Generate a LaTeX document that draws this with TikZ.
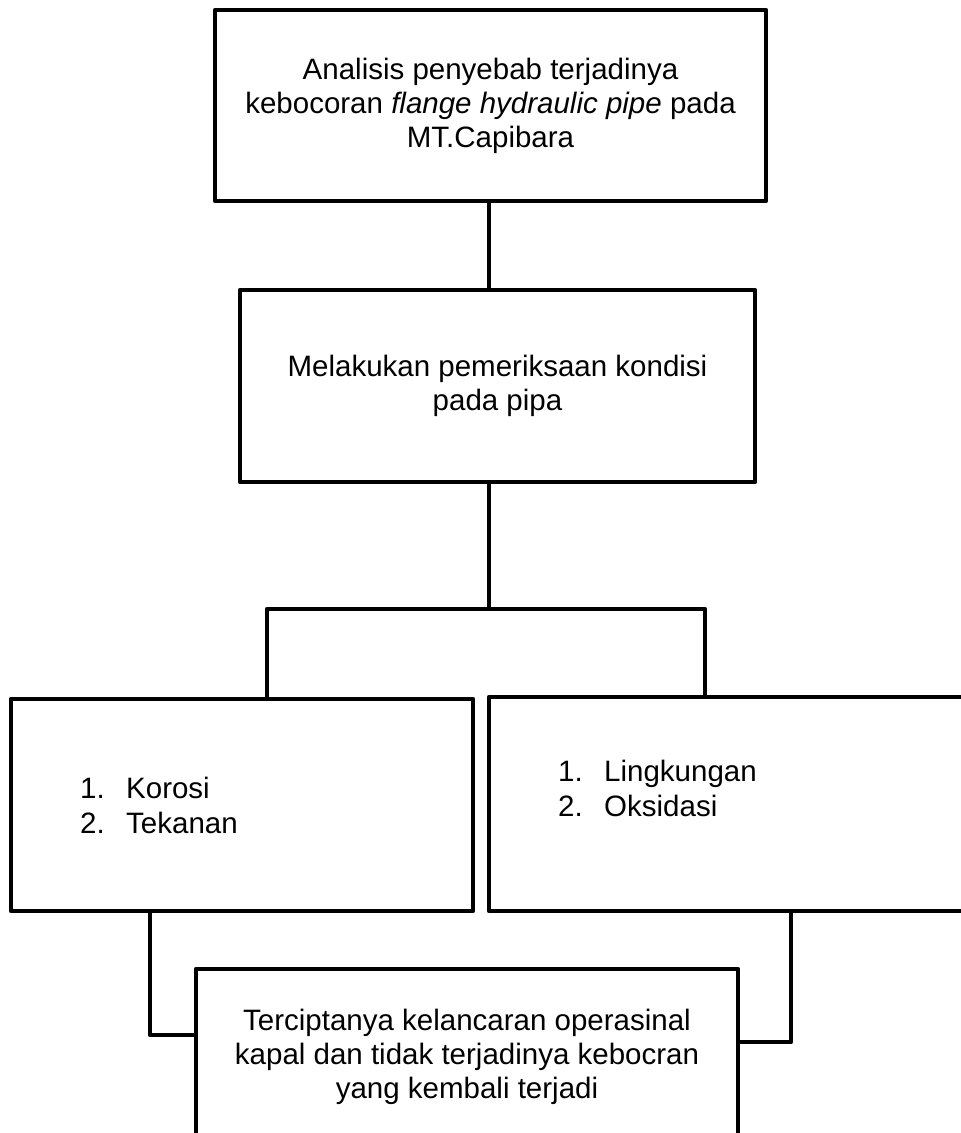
\documentclass[tikz,border=0pt]{standalone}
\usepackage{fontspec}
\setmainfont{Liberation Sans}
\begin{document}
\begin{tikzpicture}[x=1pt,y=-1pt,
  box/.style={draw=black, line width=4.8pt, fill=white, outer sep=0pt, inner sep=0pt, line join=round},
  boxtext/.style={align=center, font=\fontsize{29.5}{34}\selectfont},
  listtext/.style={inner sep=0pt, font=\fontsize{29.5}{34.5}\selectfont},
  conn/.style={draw=black, line width=4.8pt, line join=round}]
\useasboundingbox (0,0) rectangle (961,1133);
\fill[white] (0,0) rectangle (961,1133);
\clip (0,0) rectangle (961,1133);

% coordinates for connector routing
\coordinate (spine) at (489,609);
\coordinate (sl) at (267,609);
\coordinate (sr) at (705,609);
\coordinate (lj) at (150,1035);
\coordinate (rj) at (791,1042);

% boxes
\node[box, boxtext, minimum width=551pt, minimum height=191pt] (box1) at (490.5,105.5)
  {Analisis penyebab terjadinya\\ kebocoran \textit{flange hydraulic pipe} pada\\ MT.Capibara};
\node[box, boxtext, minimum width=515pt, minimum height=192pt] (box2) at (497.5,386)
  {Melakukan pemeriksaan kondisi\\ pada pipa};
\node[box, minimum width=462pt, minimum height=212pt] (box3) at (242,805) {};
\node[box, minimum width=486pt, minimum height=214pt] (box4) at (732,804) {};

% list texts
\node[listtext, anchor=west] (list3) at (80,809)
  {\begin{tabular}{@{}p{46pt}@{}l@{}}1. & Korosi\\ 2. & Tekanan\end{tabular}};
\node[listtext, anchor=west] (list4) at (558,792)
  {\begin{tabular}{@{}p{46pt}@{}l@{}}1. & Lingkungan\\ 2. & Oksidasi\end{tabular}};

% connectors
\draw[conn] (box1.south -| spine) -- (box2.north -| spine);
\draw[conn] (box2.south -| spine) -- (spine);
\draw[conn] (box3.north -| sl) -- (sl) -- (sr) -- (box4.north -| sr);
\draw[conn] (box3.south -| lj) -- (lj) -- (lj -| 196,0);
\draw[conn] (box4.south -| rj) -- (rj) -- (rj -| 738,0);

% bottom box
\node[box, boxtext, minimum width=542pt, minimum height=176pt] (box5) at (467,1057)
  {Terciptanya kelancaran operasinal\\ kapal dan tidak terjadinya kebocran\\ yang kembali terjadi};
\end{tikzpicture}
\end{document}
